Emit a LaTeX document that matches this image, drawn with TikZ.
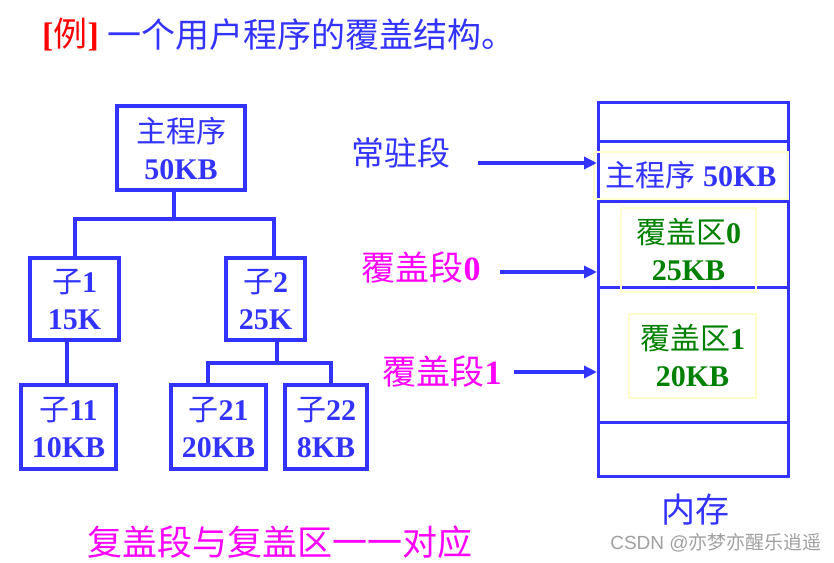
\documentclass[tikz,border=0pt]{standalone}
\usepackage{fontspec}
\setmainfont{Liberation Serif}
\newfontfamily\cjk{Noto Sans CJK SC}
\newfontfamily\wmsans{Liberation Sans}
\usetikzlibrary{arrows.meta}
\definecolor{myblue}{RGB}{51,51,255}
\definecolor{mymag}{RGB}{255,0,255}
\definecolor{mygreen}{RGB}{0,128,0}
\definecolor{myyel}{RGB}{255,255,204}
\definecolor{wmgray}{RGB}{160,160,160}
\newcommand{\zhs}[1]{{\cjk\mdseries #1}}
\newcommand{\zhb}[1]{{\cjk\bfseries #1}}
\begin{document}
\begin{tikzpicture}[x=1pt,y=-1pt,
  tbox/.style={draw=myblue,line width=4pt,inner sep=0pt,align=center,text=myblue,
    font=\fontsize{30}{37}\selectfont\bfseries},
  seg/.style={draw=myblue,line width=3pt,minimum width=190pt,inner sep=0pt},
  ybox/.style={draw=myyel,line width=1.5pt,inner sep=0pt,align=center,
    font=\fontsize{30}{37}\selectfont\bfseries},
  conn/.style={draw=myblue,line width=4pt},
  arr/.style={draw=myblue,line width=3.5pt,-{Triangle[length=13pt,width=12pt]}},
  lbl/.style={inner sep=0pt,font=\fontsize{33}{37}\selectfont}
]
\useasboundingbox (0,0) rectangle (834,562);

% title
\node[lbl,anchor=west,text=red,font=\fontsize{34}{37}\selectfont\bfseries] (t1) at (42,35) {[\zhs{例}]};
\node[lbl,anchor=west,text=myblue,font=\fontsize{34}{37}\selectfont] (t2) at (107,35) {\zhs{一个用户程序的覆盖结构。}};

% tree
\node[tbox,minimum width=128pt,minimum height=84pt] (main) at (181,148) {\zhs{主程序}\\50KB};
\node[tbox,minimum width=89pt,minimum height=82pt] (s1) at (74.5,299) {\zhs{子}1\\15K};
\node[tbox,minimum width=79pt,minimum height=82pt] (s2) at (265.5,299) {\zhs{子}2\\25K};
\node[tbox,minimum width=95pt,minimum height=84pt] (s11) at (68.5,427) {\zhs{子}11\\10KB};
\node[tbox,minimum width=95pt,minimum height=84pt] (s21) at (218.5,427) {\zhs{子}21\\20KB};
\node[tbox,minimum width=82pt,minimum height=84pt] (s22) at (326,427) {\zhs{子}22\\8KB};

\coordinate (j0) at (174,219);
\coordinate (ja) at (75,219);
\coordinate (jb) at (274,219);
\draw[conn] (j0 |- main.south) -- (j0);
\draw[conn] (ja |- s1.north) -- (ja) -- (jb) -- (jb |- s2.north);
\coordinate (k1) at (67,360);
\draw[conn] (k1 |- s1.south) -- (k1 |- s11.north);
\coordinate (k2) at (277,363);
\coordinate (ka) at (208,363);
\coordinate (kb) at (331,363);
\draw[conn] (k2 |- s2.south) -- (k2);
\draw[conn] (ka |- s21.north) -- (ka) -- (kb) -- (kb |- s22.north);

% memory
\node[seg,minimum height=38.5pt] (m0) at (693.5,121.75) {};
\node[seg,minimum height=60pt] (m1) at (693.5,171) {};
\node[seg,minimum height=86pt] (m2) at (693.5,244) {};
\node[seg,minimum height=135pt] (m3) at (693.5,354.5) {};
\node[seg,minimum height=54.5pt] (m4) at (693.5,449.25) {};

\node[ybox,minimum width=194pt,minimum height=47pt,text=myblue] (y1) at (691,175.5) {\zhs{主程序} 50KB};
\node[ybox,minimum width=135pt,minimum height=84pt,text=mygreen] (y2) at (688.5,250) {\zhs{覆盖区}0\\25KB};
\node[ybox,minimum width=127pt,minimum height=84pt,text=mygreen] (y3) at (692.5,356) {\zhs{覆盖区}1\\20KB};

% labels and arrows
\node[lbl,text=myblue] (l0) at (401,153) {\zhs{常驻段}};
\node[lbl,text=mymag,font=\fontsize{34}{37}\selectfont\bfseries] (l1) at (421,268) {\zhs{覆盖段}0};
\node[lbl,text=mymag,font=\fontsize{34}{37}\selectfont\bfseries] (l2) at (442,372) {\zhs{覆盖段}1};
\coordinate (a0) at (478,163);
\coordinate (a1) at (500,272);
\coordinate (a2) at (514,372);
\draw[arr] (a0) -- (a0 -| m1.west);
\draw[arr] (a1) -- (a1 -| m2.west);
\draw[arr] (a2) -- (a2 -| m3.west);

\node[lbl,text=myblue,font=\fontsize{34}{37}\selectfont] (mem) at (695,510) {\zhs{内存}};
\node[lbl,text=mymag,font=\fontsize{35}{37}\selectfont] (bot) at (280,542) {\zhs{复盖段与复盖区一一对应}};
\node[inner sep=0pt,text=wmgray,font=\fontsize{19}{22}\selectfont] (wm) at (716,543) {\wmsans CSDN @\zhs{亦梦亦醒乐逍遥}};
\end{tikzpicture}
\end{document}
